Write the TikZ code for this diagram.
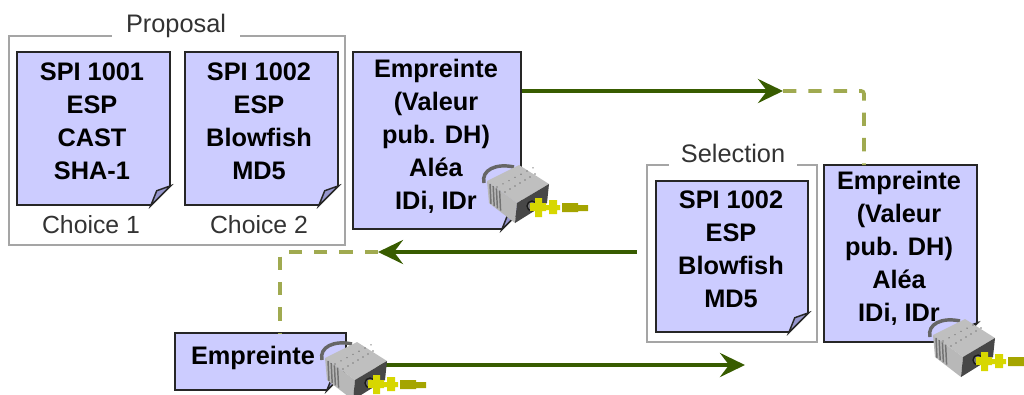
\documentclass[tikz,border=0pt]{standalone}
\usepackage{fontspec}
\setmainfont{Liberation Sans}
\usetikzlibrary{arrows.meta}

\definecolor{notefill}{RGB}{204,204,255}
\definecolor{foldfill}{RGB}{150,150,205}
\definecolor{framegrey}{RGB}{165,165,165}
\definecolor{arrowgreen}{RGB}{56,92,0}
\definecolor{dashgreen}{RGB}{160,170,80}
\definecolor{keyyellow}{RGB}{215,215,0}
\definecolor{keyolive}{RGB}{165,165,0}

\tikzset{every picture/.style={line width=0.75pt}}
\tikzset{
  sized/.style 2 args={minimum width=#1*0.75pt,minimum height=#2*0.75pt,inner sep=0pt},
  notebox/.style={draw=black!85,line width=1.1pt,fill=notefill},
  framebox/.style={draw=framegrey,line width=1.1pt},
  notetext/.style={inner sep=0pt,align=center,font=\fontsize{19}{24.8}\selectfont\bfseries},
  frametitle/.style={fill=white,inner sep=0pt,text=black!80,font=\fontsize{19}{23}\selectfont},
  choicetext/.style={inner sep=0pt,text=black!80,font=\fontsize{18.6}{23}\selectfont},
  arrowline/.style={draw=arrowgreen,line width=3pt,-{Stealth[length=25*0.75pt,width=24*0.75pt,inset=9*0.75pt]}},
  dashline/.style={draw=dashgreen,line width=2.7pt,dash pattern=on 10pt off 9pt,rounded corners=2pt},
  padlock/.pic={
    %shackle
    \draw [color=black!60,line width=2.6pt] (2,20) .. controls (-1,7) and (14,0) .. (32,4);
    %body
    \fill [black!25] (5,18) -- (37,2) -- (67,21) -- (35,40) -- cycle;
    \fill [black!28] (5,18) -- (35,40) -- (33,60) -- (7,40) -- cycle;
    \fill [black!72] (35,40) -- (67,21) -- (65,40) -- (33,60) -- cycle;
    \foreach \i in {0,1,2,3} {
      \draw [black!55,line width=1.1pt] (8+\i*3.2,21+\i*2.2) -- (9+\i*3.2,41+\i*2.2);
    }
    \foreach \i in {0,...,6} {
      \fill [black!50] (15+\i*6,24-\i*3.2) circle (0.8);
      \fill [black!50] (23+\i*5,29-\i*3) circle (0.8);
    }
    %keyhole and key
    \draw [black!90,line width=1pt,fill=black!55] (50,43) circle (5);
    \fill [keyyellow] (48,40) rectangle (64,48) (53,35) rectangle (60,54);
    \fill [keyyellow] (64,42) rectangle (78,47) (67,37) rectangle (75,51);
    \fill [keyolive] (80,40) rectangle (96,49) (96,42) rectangle (106,48);
  }
}
\newcommand{\foldcorner}[1]{
  \fill [white] ([shift={(-20,0)}]#1.south east) -- ([shift={(0.8,0.8)}]#1.south east) -- ([shift={(0,-20)}]#1.south east) -- cycle;
  \draw [black!85,line width=1.1pt,fill=foldfill] ([shift={(-20,0)}]#1.south east) -- ([shift={(0,-20)}]#1.south east) -- ([shift={(-14,-15)}]#1.south east) -- cycle;
}

\begin{document}
\begin{tikzpicture}[x=0.75pt,y=0.75pt,yscale=-1,xscale=1]
\useasboundingbox (0,0) rectangle (1024,394);

%frames
\node [framebox,sized={336}{209}] (propframe) at (177,140.5) {};
\node [frametitle,minimum width=128*0.75pt,minimum height=32*0.75pt] (proptitle) at (176,26) {Proposal};
\node [framebox,sized={170}{177}] (selframe) at (732,253.5) {};
\node [frametitle,minimum width=128*0.75pt,minimum height=30*0.75pt] (seltitle) at (733,153) {Selection};
\node [choicetext] (choicea) at (91,225) {Choice 1};
\node [choicetext] (choiceb) at (259,225) {Choice 2};

%notes
\node [notebox,sized={153}{153}] (spia) at (93.5,128.5) {};
\node [notetext] (spiatext) at (92,121) {SPI 1001\\ESP\\CAST\\SHA-1};
\node [notebox,sized={153}{153}] (spib) at (261.5,128.5) {};
\node [notetext] (spibtext) at (259,121) {SPI 1002\\ESP\\Blowfish\\MD5};
\node [notebox,sized={168}{177}] (empa) at (437,140.5) {};
\node [notetext] (empatext) at (436,136) {Empreinte\\(Valeur\\pub. DH)\\Aléa\\IDi, IDr};
\node [notebox,sized={152}{151}] (spic) at (732,256.5) {};
\node [notetext] (spictext) at (731,249) {SPI 1002\\ESP\\Blowfish\\MD5};
\node [notebox,sized={153}{177}] (empb) at (900.5,253.5) {};
\node [notetext] (empbtext) at (899,248) {Empreinte\\(Valeur\\pub. DH)\\Aléa\\IDi, IDr};
\node [notebox,sized={171}{57}] (empc) at (260.5,361.5) {};
\node [notetext] (empctext) at (253,358) {Empreinte};
\foldcorner{spia}
\foldcorner{spib}
\foldcorner{empa}
\foldcorner{spic}
\foldcorner{empb}
\foldcorner{empc}

%connectors
\coordinate (tipa) at (783,91);
\coordinate (enda) at (864,165);
\coordinate (tipb) at (378,252);
\coordinate (endb) at (280,333);
\coordinate (tipc) at (745,365);
\draw [dashline] (tipa) -| (enda);
\draw [dashline] (tipb) -| (endb);
\draw [arrowline] (empa.east |- tipa) -- (tipa);
\draw [arrowline] ([xshift=-7]selframe.west |- tipb) -- (tipb);
\draw [arrowline] (empc.east |- tipc) -- (tipc);

%padlocks
\pic [transform shape] at (482,163) {padlock};
\pic [transform shape] at (928,317) {padlock};
\pic [transform shape] at (320,340) {padlock};

\end{tikzpicture}
\end{document}
